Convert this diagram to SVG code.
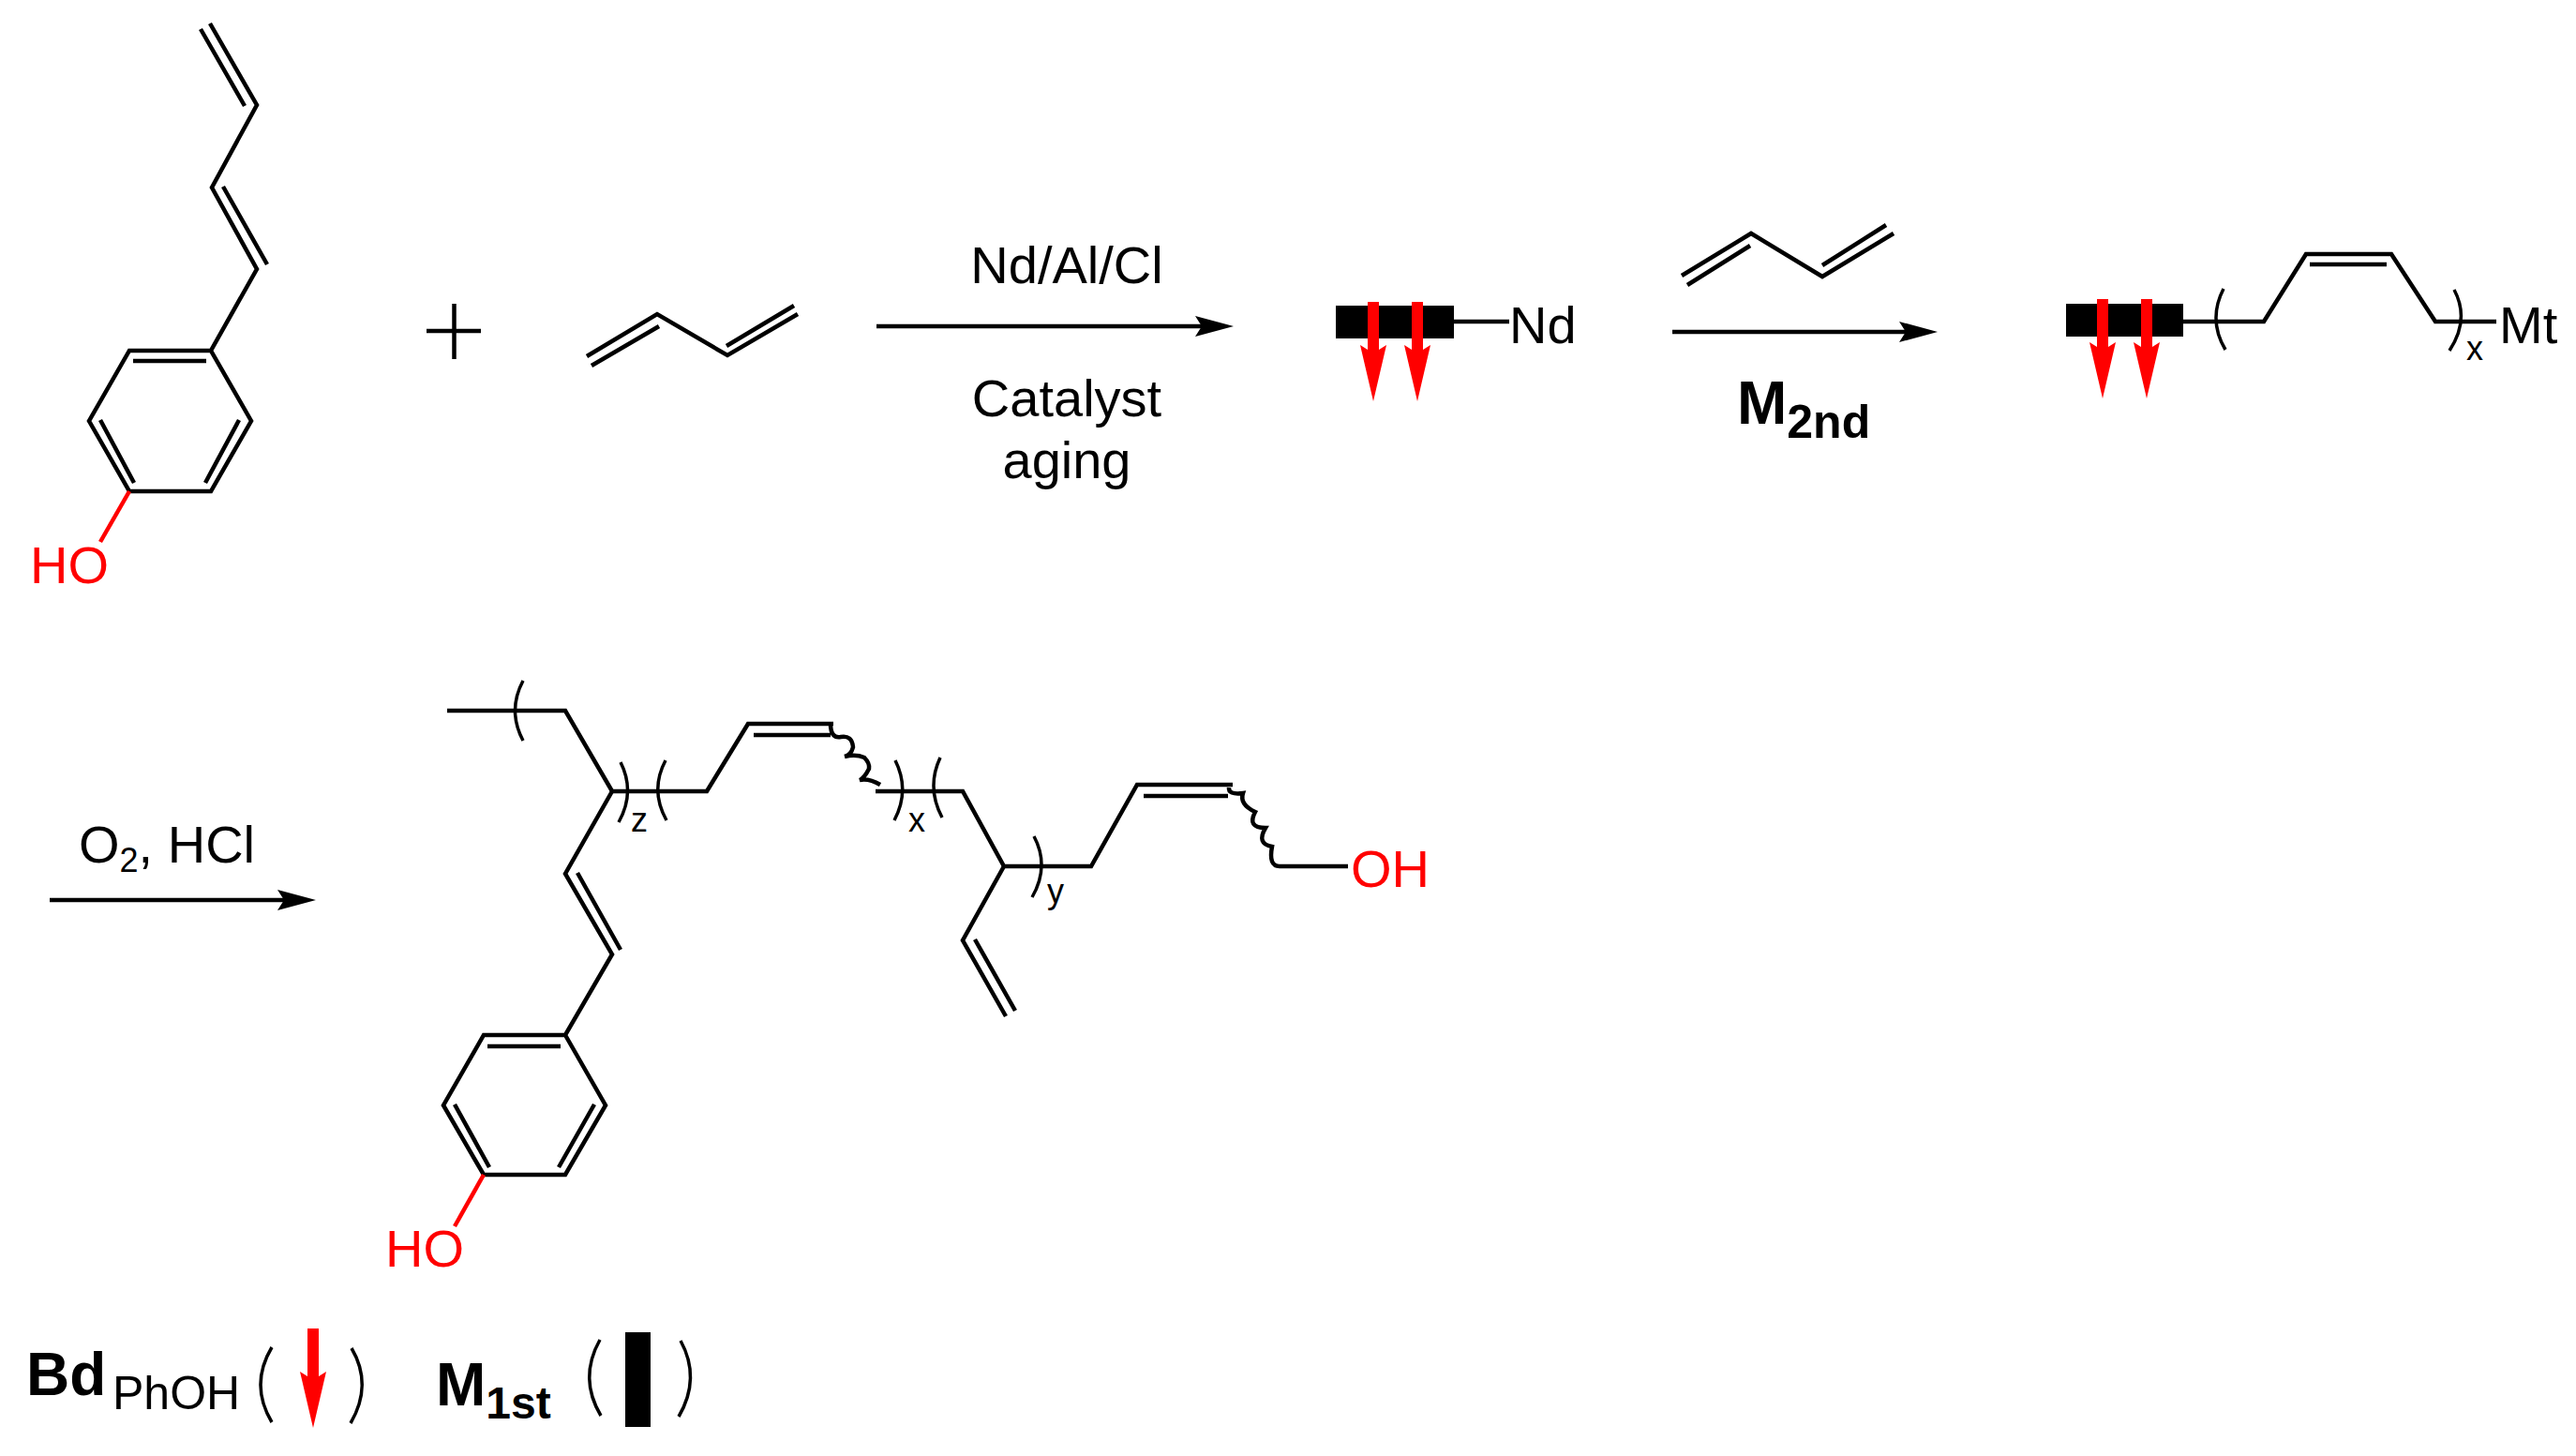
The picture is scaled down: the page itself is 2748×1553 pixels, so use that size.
<svg xmlns="http://www.w3.org/2000/svg" width="2748" height="1553" viewBox="0 0 2748 1553">
<style>
text{font-family:"Liberation Sans",Arial,sans-serif;fill:#000}
.b{fill:none;stroke:#000;stroke-width:4.5;stroke-linecap:butt;stroke-linejoin:miter}
.t{font-size:56px}
.s{font-size:36px}
.red{fill:#f00}
.rb{fill:none;stroke:#f00;stroke-width:4.5}
.br{fill:none;stroke:#000;stroke-width:3.5}
.bold{font-weight:bold}
.ah{fill:#f00}
.ak{fill:#000}
</style>
<defs>
<polygon id="redArrow" class="ah" points="-6,0 6,0 6,51 14,46 0,106 -14,46 -6,51"/>
</defs>
<rect width="2748" height="1553" fill="#fff"/>
<g id="phenol-monomer">
<path class="b" d="M224 25L274 112L226 200L274 287L225 374L268 449L225 524H138L95 449L138 374H225"/>
<path class="b" d="M214 31L261 113M238 199L285 282M142 385H220M107 448L143 515M255 448L219 515"/>
<path class="rb" d="M138 524L107 578"/>
<text class="t red" x="32" y="622">HO</text>
</g>
<g id="plus"><path class="b" d="M484.5 324V383M455 353H513"/></g>
<g id="butadiene-1">
<path class="b" d="M626 380L701 335L776 379L851 335M631 390L703 348M775 369L847 326"/>
</g>
<g id="catalyst">
<rect x="1425" y="326" width="126" height="35"/>
<path class="b" d="M1551 343H1610"/>
<use href="#redArrow" x="1465" y="322"/>
<use href="#redArrow" x="1512" y="322"/>
<text class="t" x="1610" y="366">Nd</text>
</g>
<g id="butadiene-2">
<path class="b" d="M1794 294L1868 249L1944 295L2020 249M1800 304L1867 262M1944 283L2012 240"/>
</g>
<g id="living-chain">
<rect x="2204" y="324" width="125" height="35"/>
<use href="#redArrow" x="2243" y="319"/>
<use href="#redArrow" x="2290" y="319"/>
<path class="b" d="M2329 343H2415L2460 271H2551L2598 343H2663M2464 282H2546"/>
<path class="br" d="M2372 308Q2355 341 2374 373M2618 309Q2635 341 2613 374"/>
<text class="s" x="2631" y="384">x</text>
<text class="t" x="2666" y="366">Mt</text>
</g>
<g id="polymer">
<path class="b" d="M477 758H603L653 844H754L798 772H889M804 784H886"/>
<path class="b" d="M886 772Q886 788 897 786Q909 784 910 797Q908 805 901 807Q913 804 922 808Q928 814 927 820Q922 830 917 832Q927 830 939 837" stroke-width="4"/>
<path class="b" d="M934 844H1027L1071 924H1164L1213 837H1315M1220 849H1310"/>
<path class="b" d="M1311 840Q1310 848 1326 846Q1322 858 1339 866Q1330 883 1350 883Q1340 900 1357 903Q1353 924 1365 924H1438"/>
<path class="b" d="M653 844L603 932L653 1018L603 1104H516L473 1179L516 1253H603L646 1179L603 1104M616 931L662 1013M520 1116H598M485 1178L522 1245M634 1178L596 1245"/>
<path class="b" d="M1071 924L1027 1003L1073 1084M1040 1002L1083 1078"/>
<path class="rb" d="M516 1253L485 1308"/>
<path class="br" d="M558 726Q541 758 558 790M662 813Q678 845 660 877M710 811Q693 843 711 875M955 811Q971 843 954 875M1003 808Q988 840 1005 872M1103 892Q1120 924 1101 957"/>
<text class="s" x="673" y="887">z</text>
<text class="s" x="969" y="887">x</text>
<text class="s" x="1117" y="963">y</text>
<text class="t red" x="1441" y="946">OH</text>
<text class="t red" x="411" y="1351">HO</text>
</g>
<g id="connectors">
<path class="b" d="M935 348H1285M1784 354H2035M53 960H305"/>
<polygon class="ak" points="1316,348 1275,337 1282,348 1275,359"/>
<polygon class="ak" points="2067,354 2026,343 2033,354 2026,365"/>
<polygon class="ak" points="337,960 296,949 303,960 296,971"/>
</g>
<g id="labels">
<text class="t" x="1138" y="302" text-anchor="middle">Nd/Al/Cl</text>
<text class="t" x="1138" y="444" text-anchor="middle">Catalyst</text>
<text class="t" x="1138" y="510" text-anchor="middle">aging</text>
<text class="bold" x="1853" y="452" font-size="64">M<tspan font-size="50" dy="15">2nd</tspan></text>
<text class="t" x="84" y="920">O<tspan font-size="36" dy="10">2</tspan><tspan dy="-10">, HCl</tspan></text>
</g>
<g id="legend">
<text class="bold" x="28" y="1488" font-size="64">Bd</text>
<text x="120" y="1503" font-size="50">PhOH</text>
<path class="br" stroke-width="4" d="M290 1437Q266 1477 290 1517M375 1438Q398 1477 374 1518"/>
<use href="#redArrow" x="334" y="1417"/>
<text class="bold" x="465" y="1499" font-size="64">M<tspan font-size="48" dy="14">1st</tspan></text>
<path class="br" stroke-width="4" d="M640 1429Q617 1470 641 1510M726 1430Q748 1470 724 1511"/>
<rect x="667" y="1421" width="27" height="101"/>
</g>
</svg>
